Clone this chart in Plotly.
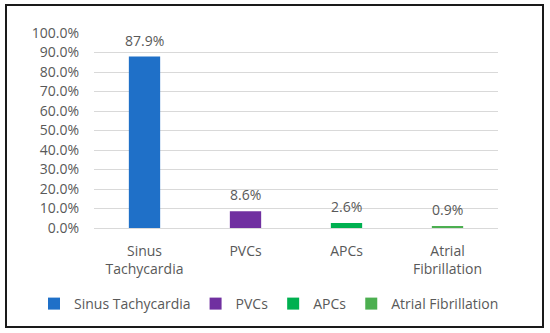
import plotly.graph_objects as go

categories = ["Sinus<br>Tachycardia", "PVCs", "APCs", "Atrial<br>Fibrillation"]
names = ["Sinus Tachycardia", "PVCs", "APCs", "Atrial Fibrillation"]
values = [0.879, 0.086, 0.026, 0.009]
labels = ["87.9%", "8.6%", "2.6%", "0.9%"]
colors = ["#1F70C8", "#7030A0", "#00B050", "#4CAF50"]
tick_vals = [0, 0.1, 0.2, 0.3, 0.4, 0.5, 0.6, 0.7, 0.8, 0.9, 1.0]

FONT = "Open Sans"
TXT = "#595959"

fig = go.Figure()
for cat, name, v, c in zip(categories, names, values, colors):
    fig.add_trace(go.Bar(x=[cat], y=[v], name=name, marker_color=c,
                         width=0.31, marker_line_width=0))

for cat, v, lab in zip(categories, values, labels):
    fig.add_annotation(x=cat, y=v, text=lab, showarrow=False, yanchor="bottom",
                       yshift=5, font=dict(family=FONT, size=14, color=TXT))

L, T, W, H = 94, 33, 404, 195
fig.update_layout(
    width=550, height=333,
    margin=dict(l=L, r=550 - L - W, t=T, b=333 - T - H),
    paper_bgcolor="white", plot_bgcolor="white",
    barmode="overlay",
    showlegend=True,
    legend=dict(orientation="h", x=(34 - L) / W, xanchor="left",
                y=(T + H - 304) / H, yanchor="middle",
                bgcolor="rgba(0,0,0,0)",
                font=dict(family=FONT, size=14, color=TXT),
                itemwidth=30, tracegroupgap=0, traceorder="normal"),
    xaxis=dict(categoryorder="array", categoryarray=categories,
               tickfont=dict(family=FONT, size=14, color=TXT),
               showline=False, ticks="", showgrid=False,
               ticklabelstandoff=13),
    yaxis=dict(range=[0, 1.0], tickvals=tick_vals, tickformat=".1%",
               tickfont=dict(family=FONT, size=14, color=TXT),
               showgrid=True, gridcolor="#D9D9D9", gridwidth=1,
               zeroline=True, zerolinecolor="#D9D9D9", zerolinewidth=1,
               ticks="", ticklen=0, showline=False,
               ticklabelstandoff=14),
)

# outer border of the chart area
fig.add_shape(type="rect", xref="paper", yref="paper",
              x0=(6 - L) / W, x1=(543 - L) / W,
              y0=(T + H - 327) / H, y1=(T + H - 5) / H,
              line=dict(color="#1a1a1a", width=2), fillcolor="rgba(0,0,0,0)",
              layer="above")

fig.write_html("out.html", config={"displayModeBar": False},
               post_script="document.body.style.margin='0';document.body.style.padding='0';")
